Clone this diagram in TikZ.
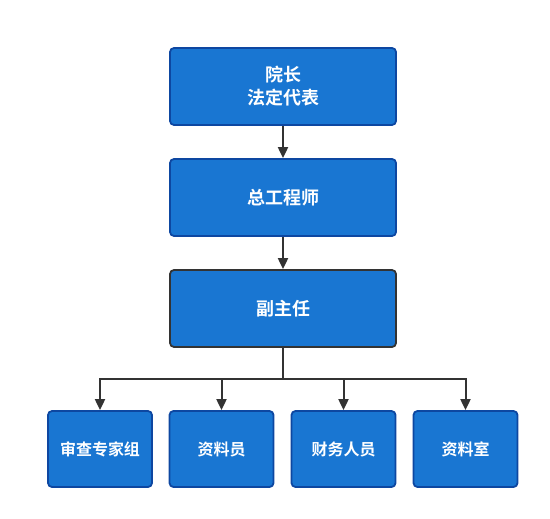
\documentclass[tikz,border=0pt]{standalone}
\usepackage{fontspec}
\newfontfamily\cjk{Noto Sans CJK SC}[BoldFont={Noto Sans CJK SC Bold}]
\usetikzlibrary{arrows.meta}
\definecolor{boxfill}{HTML}{1976D2}
\definecolor{boxline}{HTML}{0D47A1}
\definecolor{conn}{HTML}{333333}
\tikzset{
  box/.style={draw=boxline, fill=boxfill, line width=1.8pt, rounded corners=4pt,
    text=white, font=\cjk\bfseries\fontsize{18}{23}\selectfont, align=center,
    minimum width=226pt, minimum height=77pt, inner sep=0pt},
  smallbox/.style={box, minimum width=104pt, minimum height=76pt,
    font=\cjk\bfseries\fontsize{16}{20}\selectfont},
  conn/.style={draw=conn, line width=2pt, -{Triangle[length=11pt,width=10pt]}},
  bus/.style={draw=conn, line width=2pt}
}
\begin{document}
\begin{tikzpicture}[x=1pt,y=-1pt]
\useasboundingbox (0,0) rectangle (550,519);
\node[box] (a) at (283,86.5) {院长\\法定代表};
\node[box] (b) at (283,197.5) {总工程师};
\node[box, draw=conn] (c) at (283,308.5) {副主任};
\node[smallbox] (d1) at (100,449) {审查专家组};
\node[smallbox] (d2) at (221.5,449) {资料员};
\node[smallbox] (d3) at (343.5,449) {财务人员};
\node[smallbox] (d4) at (465.5,449) {资料室};
\draw[conn] (a) -- (b);
\draw[conn] (b) -- (c);
\coordinate (j) at (283,379);
\draw[bus] (c.south) -- (j);
\draw[conn] (j) -| (d1.north);
\draw[conn] (j) -| (d2.north);
\draw[conn] (j) -| (d3.north);
\draw[conn] (j) -| (d4.north);
\end{tikzpicture}
\end{document}
